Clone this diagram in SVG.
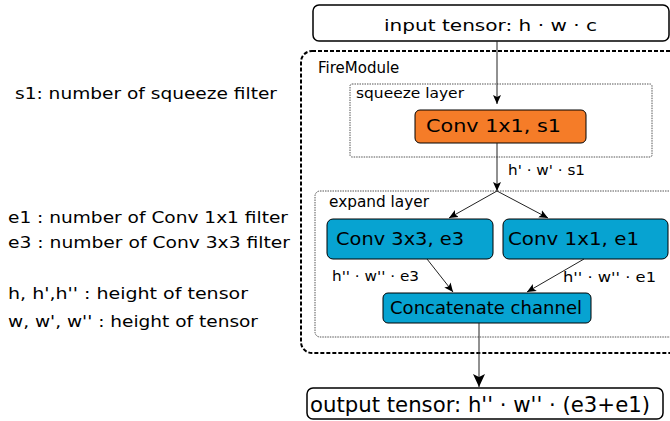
<svg xmlns="http://www.w3.org/2000/svg" width="670" height="421" viewBox="0 0 670 421">
<defs>
<marker id="ah" markerWidth="10" markerHeight="10" refX="9" refY="5" orient="auto" markerUnits="userSpaceOnUse">
<path d="M0,1 L9,5 L0,9 L2,5 Z" fill="#000"/>
</marker>
<marker id="ahb" markerWidth="14" markerHeight="14" refX="13" refY="7" orient="auto" markerUnits="userSpaceOnUse">
<path d="M0,1 L13,7 L0,13 L3,7 Z" fill="#000"/>
</marker>
</defs>
<style>
text{font-family:"DejaVu Sans",sans-serif;fill:#000}
.plain{fill:#fff;stroke:#000;stroke-width:1.5}
.orange{fill:#f57c28;stroke:#000;stroke-width:1}
.blue{fill:#07a3d1;stroke:#000;stroke-width:1}
.fire{fill:none;stroke:#000;stroke-width:2;stroke-dasharray:4,2}
.layer{fill:none;stroke:#555;stroke-width:1;stroke-dasharray:1.5,1}
.conn{fill:none;stroke:#222;stroke-width:1}
.lbl{font-size:13.5px}
.leg{font-size:16.5px}
</style>
<g id="legend">
<text class="leg" x="15" y="99" textLength="262" lengthAdjust="spacingAndGlyphs">s1: number of squeeze filter</text>
<text class="leg" x="8" y="223" textLength="280" lengthAdjust="spacingAndGlyphs">e1 : number of Conv 1x1 filter</text>
<text class="leg" x="8" y="248" textLength="282" lengthAdjust="spacingAndGlyphs">e3 : number of Conv 3x3 filter</text>
<text class="leg" x="8" y="299" textLength="240" lengthAdjust="spacingAndGlyphs">h, h',h'' : height of tensor</text>
<text class="leg" x="8" y="327" textLength="250" lengthAdjust="spacingAndGlyphs">w, w', w'' : height of tensor</text>
</g>
<g id="fire-module">
<rect class="fire" x="301" y="51" width="390" height="302" rx="11"/>
<text x="318" y="73" font-size="15">FireModule</text>
</g>
<g id="squeeze-layer">
<rect class="layer" x="350" y="84" width="302" height="73" rx="2"/>
<text x="356" y="97.5" font-size="14" textLength="108" lengthAdjust="spacingAndGlyphs">squeeze layer</text>
</g>
<g id="expand-layer">
<rect class="layer" x="315" y="191" width="370" height="146" rx="5"/>
<text x="329" y="207" font-size="15" textLength="100" lengthAdjust="spacingAndGlyphs">expand layer</text>
</g>
<g id="input">
<rect class="plain" x="313" y="5" width="356" height="36" rx="6"/>
<text x="384" y="30.5" font-size="16" textLength="213" lengthAdjust="spacingAndGlyphs">input tensor: h · w · c</text>
</g>
<g id="squeeze">
<rect class="orange" x="415" y="110" width="171" height="33" rx="5"/>
<text x="426" y="132" font-size="18" textLength="135" lengthAdjust="spacingAndGlyphs">Conv 1x1, s1</text>
</g>
<g id="conv3x3">
<rect class="blue" x="327" y="219" width="166" height="40" rx="6"/>
<text x="336" y="245" font-size="18" textLength="128" lengthAdjust="spacingAndGlyphs">Conv 3x3, e3</text>
</g>
<g id="conv1x1">
<rect class="blue" x="503" y="219" width="165" height="40" rx="6"/>
<text x="508" y="245" font-size="18" textLength="131" lengthAdjust="spacingAndGlyphs">Conv 1x1, e1</text>
</g>
<g id="concat">
<rect class="blue" x="383" y="293" width="208" height="30" rx="5"/>
<text x="390" y="314" font-size="18" textLength="192" lengthAdjust="spacingAndGlyphs">Concatenate channel</text>
</g>
<g id="output">
<rect class="plain" x="307" y="388" width="356" height="31" rx="6"/>
<text x="310" y="412" font-size="22" textLength="340" lengthAdjust="spacingAndGlyphs">output tensor: h'' · w'' · (e3+e1)</text>
</g>
<g id="connectors">
<line class="conn" x1="497" y1="41" x2="497" y2="104" marker-end="url(#ah)"/>
<line class="conn" x1="497" y1="143" x2="497" y2="191" marker-end="url(#ah)"/>
<line class="conn" x1="497" y1="191" x2="449" y2="218" marker-end="url(#ah)"/>
<line class="conn" x1="497" y1="191" x2="548" y2="218" marker-end="url(#ah)"/>
<line class="conn" x1="427" y1="259" x2="453" y2="292" marker-end="url(#ah)"/>
<line class="conn" x1="584" y1="259" x2="527" y2="292" marker-end="url(#ah)"/>
<line class="conn" x1="479" y1="323" x2="479" y2="387" stroke-width="1.3" marker-end="url(#ahb)"/>
<text class="lbl" x="508" y="175" textLength="77" lengthAdjust="spacingAndGlyphs">h' · w' · s1</text>
<text class="lbl" x="332" y="281" textLength="87" lengthAdjust="spacingAndGlyphs">h'' · w'' · e3</text>
<text class="lbl" x="563" y="282" textLength="93" lengthAdjust="spacingAndGlyphs">h'' · w'' ·  e1</text>
</g>
</svg>
